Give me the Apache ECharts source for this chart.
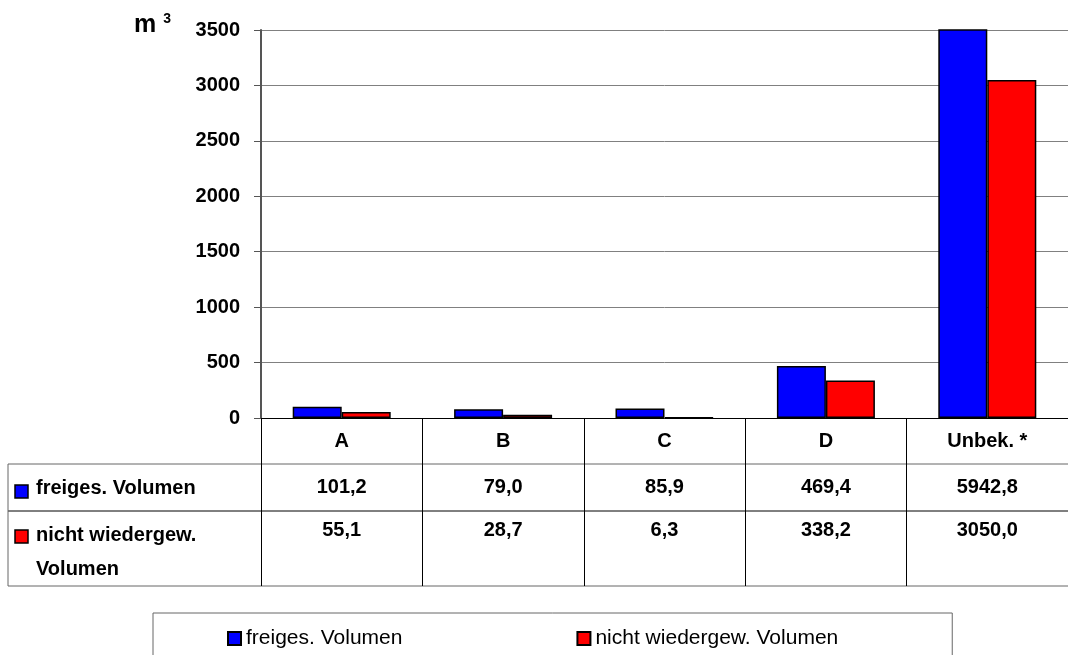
<!DOCTYPE html>
<html>
<head>
<meta charset="utf-8">
<script src="https://cdn.jsdelivr.net/npm/echarts@6/dist/echarts.min.js"></script>
<style>
  html, body { margin: 0; padding: 0; background: #fff; }
  #chart { width: 1068px; height: 655px; }
</style>
</head>
<body>
<div id="chart"></div>
<script>
var categories = ['A', 'B', 'C', 'D', 'Unbek. *']
var freigesVolumen = [101.2, 79.0, 85.9, 469.4, 5942.8]
var nichtWiedergew = [55.1, 28.7, 6.3, 338.2, 3050.0]
var seriesNames = ['freiges. Volumen', 'nicht wiedergew. Volumen']
var yTicks = [0, 500, 1000, 1500, 2000, 2500, 3000, 3500]

var FONT = '"Liberation Sans", Arial, sans-serif'

function fmt(v) {
  return v.toFixed(1).replace('.', ',')
}

var chart = echarts.init(document.getElementById('chart'))

chart.setOption({
  animation: false,
  backgroundColor: '#fff',
  textStyle: { fontFamily: FONT },
  grid: {
    left: 261,
    right: 0,
    top: 30,
    bottom: 237
  },
  legend: {
    left: 153,
    top: 613,
    data: seriesNames,
    orient: 'horizontal',
    icon: 'rect',
    itemWidth: 13,
    itemHeight: 13,
    itemGap: 174,
    padding: [15, 114, 16, 74],
    borderColor: '#666',
    borderWidth: 1,
    textStyle: {
      fontFamily: FONT,
      fontSize: 21,
      color: '#000'
    }
  },
  xAxis: {
    type: 'category',
    data: categories,
    axisLine: { show: true, lineStyle: { color: '#000', width: 1 } },
    axisTick: {
      show: true,
      alignWithLabel: false,
      length: 168,
      lineStyle: { color: '#000', width: 1 }
    },
    axisLabel: {
      margin: 0,
      interval: 0,
      formatter: function (val, idx) {
        return '{cat|' + val + '}\n{v1|' + fmt(freigesVolumen[idx]) + '}\n{v2|' + fmt(nichtWiedergew[idx]) + '}'
      },
      rich: {
        cat: { fontFamily: FONT, fontWeight: 'bold', fontSize: 20, color: '#000', lineHeight: 46 },
        v1: { fontFamily: FONT, fontWeight: 'bold', fontSize: 20, color: '#000', lineHeight: 47 },
        v2: { fontFamily: FONT, fontWeight: 'bold', fontSize: 20, color: '#000', lineHeight: 38 }
      }
    },
    splitLine: { show: false }
  },
  yAxis: {
    type: 'value',
    min: yTicks[0],
    max: yTicks[yTicks.length - 1],
    interval: 500,
    axisLine: { show: true, lineStyle: { color: '#555', width: 2 } },
    axisTick: { show: true, length: 7, lineStyle: { color: '#555', width: 1 } },
    axisLabel: {
      margin: 21,
      fontFamily: FONT,
      fontWeight: 'bold',
      fontSize: 20,
      color: '#000',
      formatter: function (v) { return String(v) }
    },
    splitLine: { show: true, lineStyle: { color: '#808080', width: 1 } }
  },
  series: [
    {
      name: seriesNames[0],
      type: 'bar',
      data: freigesVolumen,
      barWidth: 49,
      barGap: '0%',
      clip: true,
      itemStyle: { color: '#0000ff', borderColor: '#000', borderWidth: 1.5 }
    },
    {
      name: seriesNames[1],
      type: 'bar',
      data: nichtWiedergew,
      barWidth: 49,
      barGap: '0%',
      clip: true,
      itemStyle: { color: '#ff0000', borderColor: '#000', borderWidth: 1.5 }
    }
  ],
  graphic: [
    // unit label
    {
      type: 'text',
      left: 134,
      top: 12,
      style: {
        text: 'm{sup|3}',
        fontFamily: FONT,
        fontWeight: 'bold',
        fontSize: 25,
        fill: '#000',
        rich: {
          sup: { fontFamily: FONT, fontWeight: 'bold', fontSize: 14, verticalAlign: 'top', padding: [0, 0, 12, 7] }
        }
      }
    },
    // table lines
    { type: 'line', shape: { x1: 8, y1: 464, x2: 1068, y2: 464 }, style: { stroke: '#666', lineWidth: 1 } },
    { type: 'line', shape: { x1: 8, y1: 511, x2: 1068, y2: 511 }, style: { stroke: '#000', lineWidth: 1 } },
    { type: 'line', shape: { x1: 8, y1: 586, x2: 1068, y2: 586 }, style: { stroke: '#666', lineWidth: 1 } },
    { type: 'line', shape: { x1: 8, y1: 464, x2: 8, y2: 586 }, style: { stroke: '#666', lineWidth: 1 } },
    // row headers
    { type: 'rect', shape: { x: 15, y: 485, width: 13, height: 13 }, style: { fill: '#0000ff', stroke: '#000', lineWidth: 1.5 } },
    {
      type: 'text', left: 36, top: 478,
      style: { text: seriesNames[0], fontFamily: FONT, fontWeight: 'bold', fontSize: 20, fill: '#000' }
    },
    { type: 'rect', shape: { x: 15, y: 530, width: 13, height: 13 }, style: { fill: '#ff0000', stroke: '#000', lineWidth: 1.5 } },
    {
      type: 'text', left: 36, top: 518,
      style: { text: 'nicht wiedergew.\nVolumen', fontFamily: FONT, fontWeight: 'bold', fontSize: 20, lineHeight: 34, fill: '#000' }
    }
  ]
})
</script>
</body>
</html>
